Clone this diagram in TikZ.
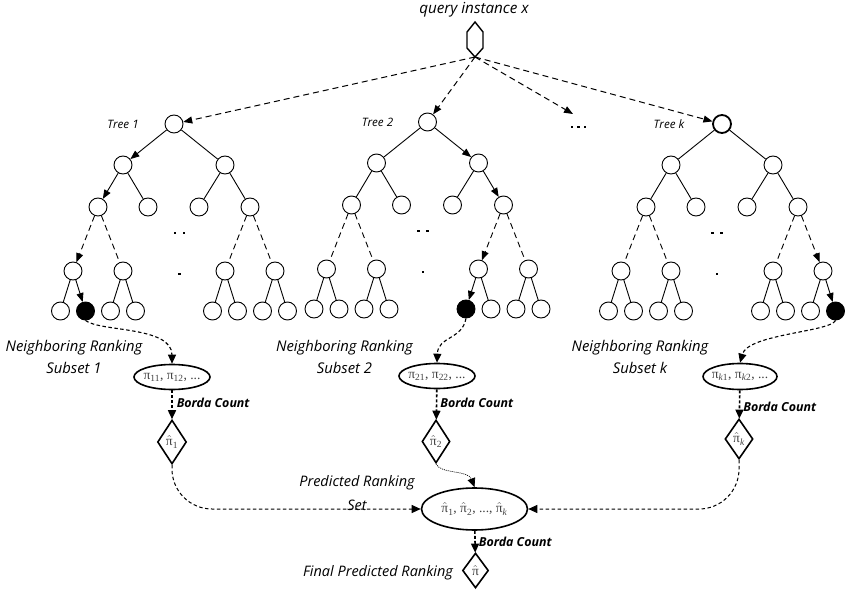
\documentclass[tikz,border=0pt]{standalone}
\usepackage{fontspec}
\setmainfont{Open Sans}
\newfontfamily\pifont{Liberation Serif}
\usetikzlibrary{shapes.geometric,arrows.meta,calc}

% pi symbols used inside the ellipses and diamonds
\newcommand\pis[1]{π\textsubscript{#1}}
\newcommand\pih{\ensuremath{\hat{\hbox{π}}}}
\newcommand\pihs[1]{\pih\textsubscript{#1}}

% one binary tree: #1 name prefix, #2 root x, #3 root y
\newcommand\maketree[3]{%
  \node[tnode,sel #1-r/.try] (#1-r) at (#2,#3) {};
  \node[tnode] (#1-a)  at ({#2-51},{#3+41}) {};
  \node[tnode] (#1-b)  at ({#2+51},{#3+41}) {};
  \node[tnode] (#1-aa) at ({#2-76},{#3+83}) {};
  \node[tnode] (#1-ab) at ({#2-26},{#3+83}) {};
  \node[tnode] (#1-ba) at ({#2+25},{#3+83}) {};
  \node[tnode] (#1-bb) at ({#2+76},{#3+83}) {};
  \node[tnode] (#1-aaa) at ({#2-101},{#3+147}) {};
  \node[tnode] (#1-aab) at ({#2-51},{#3+147}) {};
  \node[tnode] (#1-bba) at ({#2+51},{#3+147}) {};
  \node[tnode] (#1-bbb) at ({#2+101},{#3+147}) {};
  \foreach \p/\q/\dx in {aaa/a/-12.5,aaa/b/12.5,aab/a/-12.5,aab/b/12.5,
                         bba/a/-12.5,bba/b/12.5,bbb/a/-12.5,bbb/b/12.5}{
    \node[tnode,sel #1-\p\q/.try] (#1-\p\q) at ($(#1-\p)+(\dx,40)$) {};
    \draw[tedge,arr #1-\p\q/.try] (#1-\p) -- (#1-\p\q);
  }
  \foreach \p/\q in {r/a,r/b,a/aa,a/ab,b/ba,b/bb}{
    \draw[tedge,arr #1-\q/.try] (#1-\p) -- (#1-\q);
  }
  \foreach \p/\q in {aa/aaa,aa/aab,bb/bba,bb/bbb}{
    \draw[tdash,arr #1-\q/.try] (#1-\p) -- (#1-\q);
  }
}

\begin{document}
\begin{tikzpicture}[x=1pt,y=-1pt,
  tnode/.style={circle,draw,line width=0.9pt,minimum size=18pt,inner sep=0pt},
  tedge/.style={line width=0.9pt},
  tdash/.style={line width=0.9pt,dash pattern=on 6pt off 4pt},
  tip/.style={-{Triangle[length=9pt,width=7pt]}},
  hitleaf/.style={fill=black},
  % highlighted search paths
  arr t1-a/.style={tip}, arr t1-aa/.style={tip}, arr t1-aaa/.style={tip},
  arr t1-aaab/.style={tip}, sel t1-aaab/.style={hitleaf},
  arr t2-b/.style={tip}, arr t2-bb/.style={tip}, arr t2-bba/.style={tip},
  arr t2-bbaa/.style={tip}, sel t2-bbaa/.style={hitleaf},
  arr tk-bbb/.style={tip}, arr tk-bbbb/.style={tip}, sel tk-bbbb/.style={hitleaf},
  sel tk-r/.style={line width=1.8pt},
  qedge/.style={line width=1pt,dash pattern=on 6pt off 4pt,-{Triangle[length=9pt,width=7pt]}},
  leafedge/.style={line width=1.1pt,dash pattern=on 3.5pt off 2.5pt,-{Triangle[length=9pt,width=8pt]}},
  setedge/.style={line width=1pt,dash pattern=on 3.5pt off 2.5pt,-{Triangle[length=9pt,width=8pt]}},
  dotedge/.style={line width=0.7pt,dash pattern=on 1pt off 1pt,-{Triangle[length=9pt,width=8pt]}},
  borda/.style={line width=1.6pt,dash pattern=on 3pt off 2pt,-{Triangle[length=9pt,width=8pt]}},
  ell/.style={ellipse,draw,line width=1.6pt,inner sep=0pt,minimum width=76pt,minimum height=25pt},
  dia/.style={diamond,draw,line width=1.6pt,inner sep=0pt,minimum width=28pt,minimum height=43pt},
  pitext/.style={font=\pifont\fontsize{13.5}{15}\selectfont,text=black!75,inner sep=0pt},
  lbl/.style={font=\itshape\fontsize{14.8}{22}\selectfont,align=center},
  treelbl/.style={font=\itshape\fontsize{11.6}{13}\selectfont},
  bc/.style={font=\bfseries\itshape\fontsize{12.4}{14}\selectfont,inner sep=0pt},
]
\useasboundingbox (0,0) rectangle (850,593);

% query instance
\node[font=\itshape\fontsize{15.2}{18}\selectfont] (qlabel) at (474,10) {query instance x};
\draw[line width=1.4pt,line join=miter] (475,22) -- (483,32) -- (483,48) -- (475,57) -- (467,48) -- (467,32) -- cycle;
\coordinate (q) at (475,57);

% the forest
\maketree{t1}{174}{124}
\maketree{t2}{427.5}{122}
\maketree{tk}{722}{124}

\node[treelbl] (l1) at (123,124) {Tree 1};
\node[treelbl] (l2) at (377.5,122) {Tree 2};
\node[treelbl] (lk) at (669,124) {Tree k};

% omitted subtrees
\foreach \x/\y in {175/233,184/233,179.5/274,418.5/231,427.5/231,423/272,712.5/233,721.5/233,717/274}
  \fill (\x-1.4,\y-1.4) rectangle (\x+1.4,\y+1.4);

% omitted trees
\coordinate (more) at (573,114);
\foreach \x in {572,578.5,585}
  \fill (\x-1.4,125.6) rectangle (\x+1.4,128.4);

\draw[qedge] (q) -- (t1-r);
\draw[qedge] (q) -- (t2-r);
\draw[qedge] (q) -- (more);
\draw[qedge] (q) -- (tk-r);

% neighbouring ranking subsets
\node[ell,label={[pitext]center:\pis{11}, \pis{12}, ...}] (e1) at (172,377) {};
\node[ell,label={[pitext]center:\pis{21}, \pis{22}, ...}] (e2) at (437,376) {};
\node[ell,minimum width=74pt,minimum height=26pt,label={[pitext]center:\pis{\textit{k}1}, \pis{\textit{k}2}, ...}] (ek) at (740,376.5) {};

\node[lbl] (n1) at (74,357) {Neighboring Ranking\\Subset 1};
\node[lbl] (n2) at (344.5,357) {Neighboring Ranking\\Subset 2};
\node[lbl] (nk) at (640,357) {Neighboring Ranking\\Subset k};

\draw[leafedge] (t1-aaab.south) .. controls (100,332) and (172,326) .. (e1.north);
\draw[leafedge] (t2-bbaa.south) .. controls (462,340) and (438,336) .. (e2.north);
\draw[leafedge] (tk-bbbb.south) .. controls (830,332) and (748,334) .. (ek.north);

% per-tree aggregated rankings
\node[dia,minimum width=29pt,minimum height=44pt,label={[pitext]center:\pihs{1}}] (d1) at (172,442) {};
\node[dia,label={[pitext]center:\pihs{2}}] (d2) at (436,441.5) {};
\node[dia,minimum height=40pt,label={[pitext]center:\pihs{\textit{k}}}] (dk) at (739,439) {};

\draw[borda] (e1) -- (d1) node[bc,right=4pt,pos=0.45] {Borda Count};
\draw[borda] (e2) -- (d2) node[bc,right=3pt,pos=0.45] {Borda Count};
\draw[borda] (ek) -- (dk) node[bc,right=3pt,pos=0.6] {Borda Count};

% predicted ranking set
\node[ell,minimum width=106pt,minimum height=42pt,label={[pitext]center:\pihs{1}, \pihs{2}, ..., \pihs{\textit{k}}}] (ef) at (474.5,509) {};
\node[lbl,font=\itshape\fontsize{14.5}{24}\selectfont] (pset) at (357,493) {Predicted Ranking\\Set};

\draw[setedge,rounded corners=40pt] (d1.south) |- (ef.west);
\draw[setedge,rounded corners=40pt] (dk.south) |- (ef.east);
\draw[dotedge] (d2.south) .. controls (440,474) and (468,470) .. (ef.north);

% final ranking
\node[dia,minimum width=26pt,minimum height=35pt,label={[pitext]center:\pih}] (df) at (475.5,570.5) {};
\draw[borda] (ef) -- (df) node[bc,right=3pt,pos=0.5] {Borda Count};
\node[font=\itshape\fontsize{14.5}{17}\selectfont] (fl) at (378,573) {Final Predicted Ranking};
\end{tikzpicture}
\end{document}
